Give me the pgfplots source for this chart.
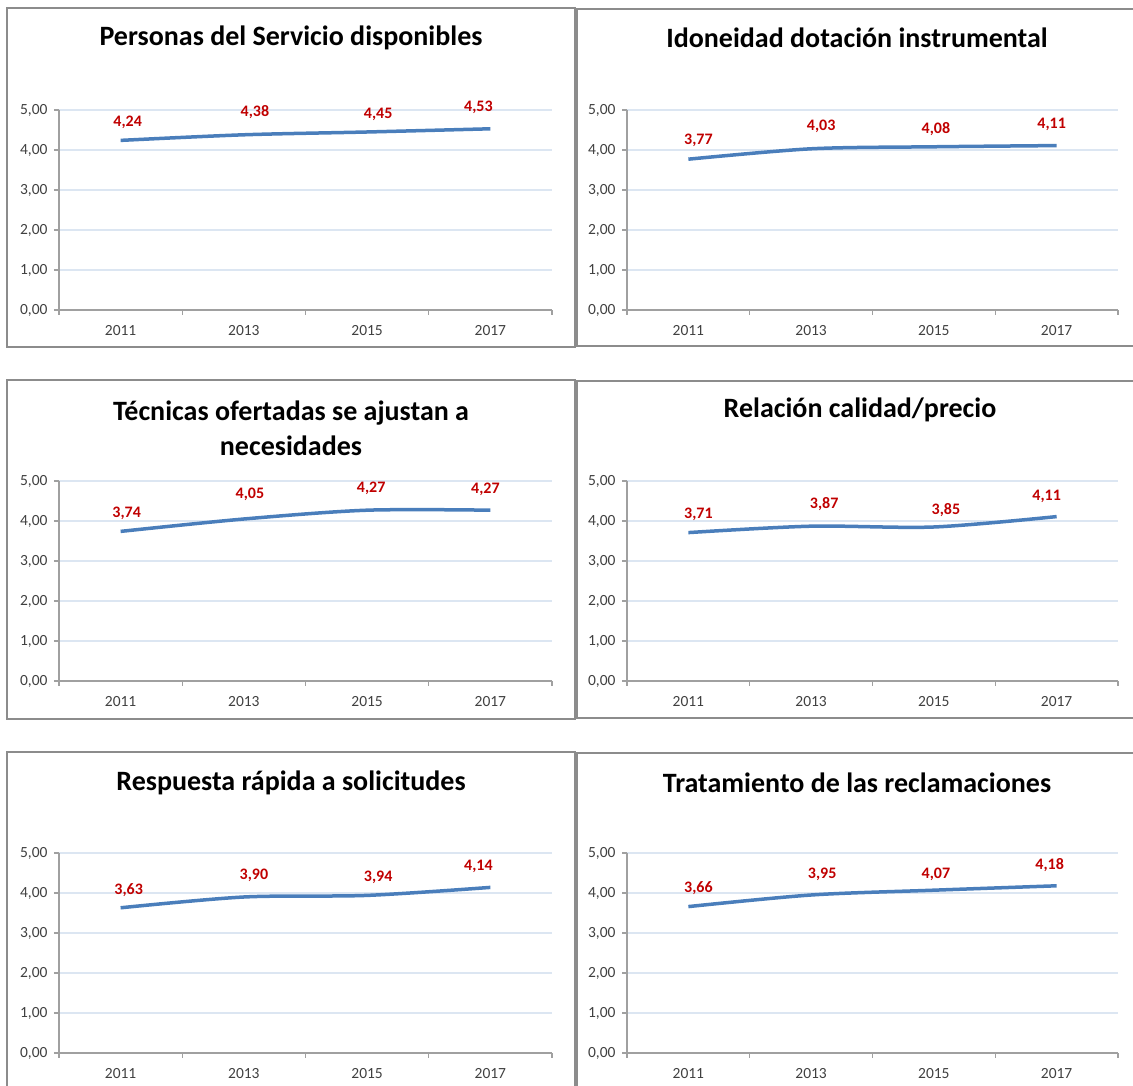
\documentclass[border=0pt]{standalone}
\usepackage{fontspec}
\setmainfont{Carlito}
\usepackage{pgfplots}
\pgfplotsset{compat=1.18}
\usepackage{pgfplotstable}

\definecolor{serie}{HTML}{4A7EBB}
\definecolor{etiq}{HTML}{C00000}
\definecolor{rejilla}{HTML}{DCE6F2}
\definecolor{eje}{HTML}{A0A0A0}
\definecolor{marco}{HTML}{8C8C8C}
\definecolor{texto}{HTML}{404040}

% year index, mean score, label offset (x, y) in pt
\pgfplotstableread{
x y dx dy
0 4.24 7 18
1 4.38 11 23
2 4.45 11 18
3 4.53 -12 21
}\personas
\pgfplotstableread{
x y dx dy
0 3.77 10 19
1 4.03 10 22
2 4.08 2 18
3 4.11 -5 21
}\idoneidad
\pgfplotstableread{
x y dx dy
0 3.74 6 18
1 4.05 6 25
2 4.27 4 22
3 4.27 -5 21
}\tecnicas
\pgfplotstableread{
x y dx dy
0 3.71 10 18
1 3.87 13 22
2 3.85 12 17
3 4.11 -10 20
}\relacion
\pgfplotstableread{
x y dx dy
0 3.63 8 18
1 3.90 10 22
2 3.94 11 18
3 4.14 -12 21
}\respuesta
\pgfplotstableread{
x y dx dy
0 3.66 10 18
1 3.95 11 21
2 4.07 2 16
3 4.18 -7 21
}\tratamiento

\pgfplotsset{
  panel/.style={
    scale only axis, width=#1, height=200pt, anchor=south west,
    xmin=-0.5, xmax=3.5, ymin=0, ymax=5,
    axis x line=bottom, axis y line=left,
    axis line style={-, draw=eje, line width=1.2pt},
    xtick={-0.5,0.5,1.5,2.5,3.5}, xticklabels={},
    extra x ticks={0,1,2,3},
    extra x tick labels={2011,2013,2015,2017},
    extra x tick style={tick style={draw=none}},
    ytick={0,1,2,3,4,5},
    ymajorgrids, grid style={draw=rejilla, line width=1.2pt},
    tick align=outside, major tick length=5pt,
    tick style={draw=eje, line width=1.2pt},
    tick label style={font=\fontsize{15.5}{18}\selectfont, text=texto},
    xticklabel style={yshift=-7pt},
    yticklabel style={xshift=-3pt},
    /pgf/number format/.cd, fixed, fixed zerofill, precision=2,
      use comma, assume math mode=true,
  },
  serie/.style={
    draw=serie, line width=3.5pt, smooth, no markers,
    visualization depends on={\thisrow{dx}\as\dx},
    visualization depends on={\thisrow{dy}\as\dy},
    nodes near coords, point meta=y,
    every node near coord/.append style={
      font=\bfseries\fontsize{16}{19}\selectfont, text=etiq,
      anchor=center, xshift=\dx, yshift=\dy},
  },
}

\tikzset{titulo/.style={font=\bfseries\fontsize{28}{35}\selectfont, align=center, text=black}}

\begin{document}
\begin{tikzpicture}
\useasboundingbox (0pt,0pt) rectangle (1133pt,1086pt);
\clip (0pt,0pt) rectangle (1133pt,1086pt);

\begin{scope}[x=1pt, y=1pt]
% panel frames
\draw[marco, line width=1.5pt] (7,1078) rectangle (575,739);
\draw[marco, line width=1.5pt] (577,1077) rectangle (1140,740);
\draw[marco, line width=1.5pt] (7,706) rectangle (575,367);
\draw[marco, line width=1.5pt] (577,705) rectangle (1140,368);
\draw[marco, line width=1.5pt] (7,334) rectangle (575,-20);
\draw[marco, line width=1.5pt] (577,333) rectangle (1140,-20);

% titles
\node[titulo] at (291,1048) {Personas del Servicio disponibles};
\node[titulo] at (857,1048) {Idoneidad dotación instrumental};
\node[titulo] at (291,658) {Técnicas ofertadas se ajustan a\\necesidades};
\node[titulo] at (860,676) {Relación calidad/precio};
\node[titulo] at (291,303) {Respuesta rápida a solicitudes};
\node[titulo] at (857,303) {Tratamiento de las reclamaciones};
\end{scope}

\begin{axis}[panel=493pt, at={(59pt,776pt)}]
\addplot[serie] table[x=x, y=y] {\personas};
\end{axis}
\begin{axis}[panel=491pt, at={(627pt,776pt)}]
\addplot[serie] table[x=x, y=y] {\idoneidad};
\end{axis}
\begin{axis}[panel=493pt, at={(59pt,405pt)}]
\addplot[serie] table[x=x, y=y] {\tecnicas};
\end{axis}
\begin{axis}[panel=491pt, at={(627pt,405pt)}]
\addplot[serie] table[x=x, y=y] {\relacion};
\end{axis}
\begin{axis}[panel=493pt, at={(59pt,33pt)}]
\addplot[serie] table[x=x, y=y] {\respuesta};
\end{axis}
\begin{axis}[panel=491pt, at={(627pt,33pt)}]
\addplot[serie] table[x=x, y=y] {\tratamiento};
\end{axis}
\end{tikzpicture}
\end{document}
